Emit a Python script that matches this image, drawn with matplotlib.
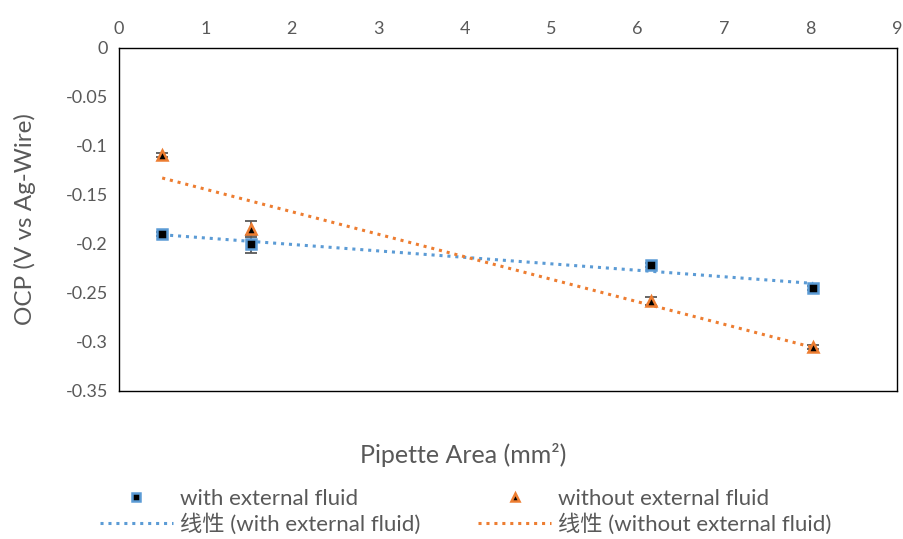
import numpy as np
import matplotlib
matplotlib.use("Agg")
import matplotlib.pyplot as plt

plt.rcParams['font.family'] = ['Lato', 'Noto Sans CJK SC', 'DejaVu Sans']

# pipette area (mm²)
area = [0.50, 1.53, 6.15, 8.03]

# OCP values (V vs Ag-wire)
ocp_with = [-0.190, -0.200, -0.221, -0.245]
err_with = [0.002, 0.009, 0.002, 0.002]
ocp_without = [-0.109, -0.185, -0.258, -0.305]
err_without = [0.002, 0.008, 0.004, 0.002]

BLUE = '#5B9BD5'
ORANGE = '#ED7D31'
GREY = '#595959'

fig = plt.figure(figsize=(9.04, 5.39), dpi=100)
ax = fig.add_axes([0.1316, 0.2746, 0.8607, 0.6364])

ax.errorbar(area, ocp_with, yerr=err_with, fmt='none', ecolor=GREY,
            elinewidth=1.3, capsize=4.5, capthick=1.3, zorder=2)
ax.errorbar(area, ocp_without, yerr=err_without, fmt='none', ecolor=GREY,
            elinewidth=1.3, capsize=4.5, capthick=1.3, zorder=2)

sq, = ax.plot(area, ocp_with, ls='none', marker='s', ms=7.5, mfc='black',
              mec=BLUE, mew=1.8, zorder=4, label='with external fluid')
tri, = ax.plot(area, ocp_without, ls='none', marker='^', ms=7.5, mfc='black',
               mec=ORANGE, mew=1.8, zorder=4, label='without external fluid')

# linear trendlines
xs = np.array([min(area), max(area)])
k1, b1 = np.polyfit(area, ocp_with, 1)
k2, b2 = np.polyfit(area, ocp_without, 1)
l1, = ax.plot(xs, k1 * xs + b1, color=BLUE, ls=(0, (1, 1.6)), lw=2.2,
              zorder=3, label='线性 (with external fluid)')
l2, = ax.plot(xs, k2 * xs + b2, color=ORANGE, ls=(0, (1, 1.6)), lw=2.2,
              zorder=3, label='线性 (without external fluid)')

ax.set_xlim(0, 9)
ax.set_ylim(-0.35, 0)
ax.set_xticks(range(0, 10))
ax.set_yticks(np.arange(-0.35, 0.001, 0.05))
ax.set_yticklabels(['-0.35', '-0.3', '-0.25', '-0.2', '-0.15', '-0.1', '-0.05', '0'])
ax.xaxis.tick_top()
ax.tick_params(axis='both', length=0, labelsize=13, labelcolor='#595959', pad=8)
for s in ax.spines.values():
    s.set_color('black')
    s.set_linewidth(1.0)

ax.set_ylabel('OCP (V vs Ag-Wire)', fontsize=17.5, color='#595959')
ax.yaxis.set_label_coords(-0.106, 0.5)
fig.text(0.512, 0.156, 'Pipette Area (mm²)', fontsize=18, color='#595959',
         ha='center', va='center')

leg = fig.legend([sq, l1, tri, l2],
                 [sq.get_label(), l1.get_label(), tri.get_label(), l2.get_label()],
                 ncol=2, loc='center', bbox_to_anchor=(0.515, 0.05),
                 frameon=False, fontsize=16, handlelength=3.3,
                 columnspacing=2.6, labelspacing=0.2, handletextpad=0.3,
                 markerscale=0.85)
for t in leg.get_texts():
    t.set_color('#595959')

fig.savefig('out.png', dpi=100)
